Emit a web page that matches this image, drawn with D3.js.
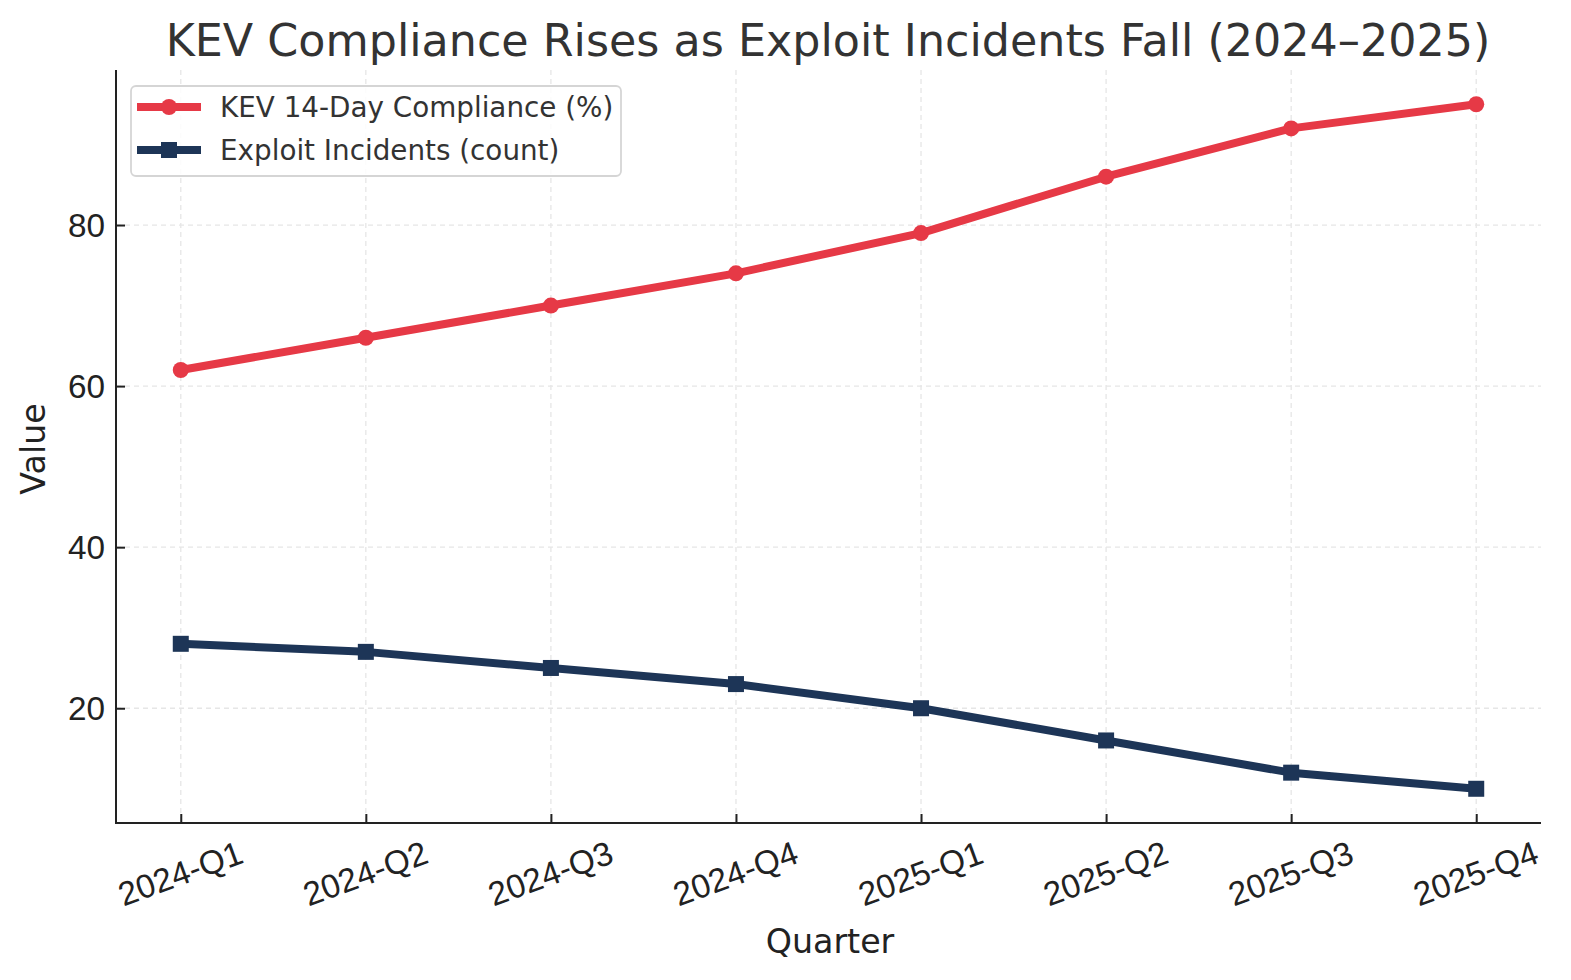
<!DOCTYPE html>
<html><head><meta charset="utf-8">
<script src="https://cdn.jsdelivr.net/npm/d3@7"></script>
<style>body{margin:0;background:#fff;}svg{display:block;font-family:"DejaVu Sans",sans-serif;}</style>
</head><body>
<svg id="c" width="1571" height="980"></svg>
<script>
const quarters = ["2024-Q1","2024-Q2","2024-Q3","2024-Q4","2025-Q1","2025-Q2","2025-Q3","2025-Q4"];
const compliance = [62,66,70,74,79,86,92,95];
const incidents = [28,27,25,23,20,16,12,10];
const yTicks = [20,40,60,80];
const seriesNames = ["KEV 14-Day Compliance (%)","Exploit Incidents (count)"];
const colors = ["#e63946","#1d3557"];

const svg = d3.select("#c");
const L=116, R=1541, T=70, B=823;
const x = d3.scaleLinear().domain([-0.35, quarters.length-1+0.35]).range([L,R]);
const all = compliance.concat(incidents);
const mn = d3.min(all), mx = d3.max(all), pad=(mx-mn)*0.05;
const y = d3.scaleLinear().domain([mn-pad, mx+pad]).range([B,T]);

// grid
const g = svg.append("g");
g.selectAll(".vg").data(quarters).join("line")
  .attr("x1",(d,i)=>x(i)).attr("x2",(d,i)=>x(i)).attr("y1",T).attr("y2",B)
  .attr("stroke","#e6e6e6").attr("stroke-width",1.3).attr("stroke-dasharray","5,4");
g.selectAll(".hg").data(yTicks).join("line")
  .attr("x1",L).attr("x2",R).attr("y1",d=>y(d)).attr("y2",d=>y(d))
  .attr("stroke","#e6e6e6").attr("stroke-width",1.3).attr("stroke-dasharray","5,4");

// axes (ticks inward)
const xa = svg.append("g").attr("transform",`translate(0,${B})`)
  .call(d3.axisBottom(x).tickValues(d3.range(quarters.length)).tickFormat(i=>quarters[i]).tickSize(-9).tickPadding(0));
xa.select(".domain").remove();
xa.selectAll(".tick line").attr("stroke","#222").attr("stroke-width",2);
xa.selectAll(".tick text").attr("font-size",33.3).attr("fill","#222")
  .attr("text-anchor","middle").attr("dy",null).attr("y",null)
  .attr("transform","translate(0,53) rotate(-20)").attr("dominant-baseline","middle");

const ya = svg.append("g").attr("transform",`translate(${L},0)`)
  .call(d3.axisLeft(y).tickValues(yTicks).tickSize(-9).tickPadding(0));
ya.select(".domain").remove();
ya.selectAll(".tick line").attr("stroke","#222").attr("stroke-width",2);
ya.selectAll(".tick text").attr("font-size",33.3).attr("fill","#222").attr("x",-11).attr("dy","0.35em");

svg.append("line").attr("x1",L).attr("x2",L).attr("y1",T).attr("y2",B+1).attr("stroke","#222").attr("stroke-width",2);
svg.append("line").attr("x1",L-1).attr("x2",R).attr("y1",B).attr("y2",B).attr("stroke","#222").attr("stroke-width",2);

// lines
const line = d3.line().x((d,i)=>x(i)).y(d=>y(d));
[compliance,incidents].forEach((s,k)=>{
  svg.append("path").datum(s).attr("d",line).attr("fill","none")
    .attr("stroke",colors[k]).attr("stroke-width",8).attr("stroke-linejoin","round").attr("stroke-linecap","butt");
});
svg.selectAll(".cm").data(compliance).join("circle")
  .attr("cx",(d,i)=>x(i)).attr("cy",d=>y(d)).attr("r",8).attr("fill",colors[0]);
svg.selectAll(".sm").data(incidents).join("rect")
  .attr("x",(d,i)=>x(i)-8).attr("y",d=>y(d)-8).attr("width",16).attr("height",16).attr("fill",colors[1]);

// labels
svg.append("text").attr("x",828).attr("y",56).attr("text-anchor","middle").attr("font-size",44.4).attr("fill","#333")
  .text("KEV Compliance Rises as Exploit Incidents Fall (2024–2025)");
svg.append("text").attr("x",830).attr("y",953).attr("text-anchor","middle").attr("font-size",33.3).attr("fill","#222").text("Quarter");
svg.append("text").attr("transform","translate(45,449) rotate(-90)").attr("text-anchor","middle").attr("font-size",33.3).attr("fill","#222").text("Value");

// legend
const lg = svg.append("g");
lg.append("rect").attr("x",131).attr("y",86).attr("width",490).attr("height",90).attr("rx",5)
  .attr("fill","#fff").attr("fill-opacity",0.85).attr("stroke","#d5d5d5").attr("stroke-width",1.8);
seriesNames.forEach((n,k)=>{
  const yy = 107 + k*43;
  lg.append("line").attr("x1",137).attr("x2",201).attr("y1",yy).attr("y2",yy).attr("stroke",colors[k]).attr("stroke-width",8);
  if(k===0) lg.append("circle").attr("cx",169).attr("cy",yy).attr("r",8).attr("fill",colors[k]);
  else lg.append("rect").attr("x",161).attr("y",yy-8).attr("width",16).attr("height",16).attr("fill",colors[k]);
  lg.append("text").attr("x",220).attr("y",yy).attr("dominant-baseline","central").attr("font-size",27.8).attr("fill","#333").text(n);
});
</script>
</body></html>
